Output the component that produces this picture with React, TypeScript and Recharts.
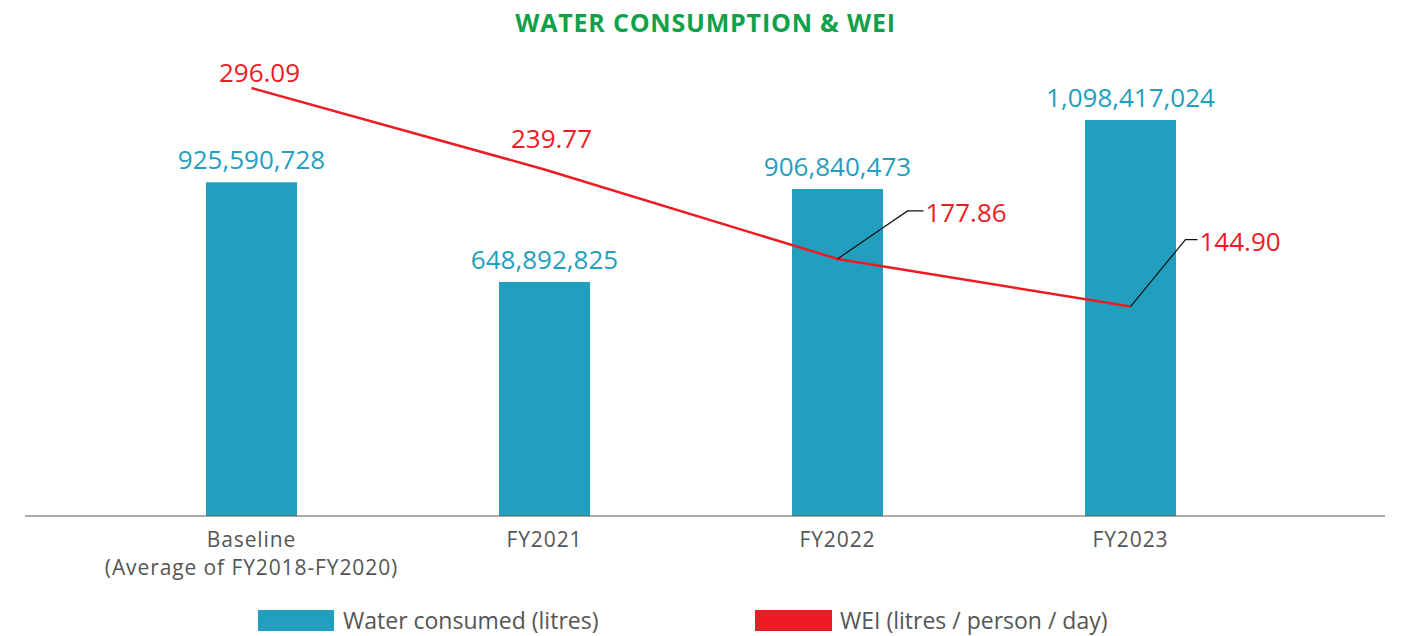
import { ComposedChart, Bar, Line, XAxis, YAxis, LabelList } from "recharts";

const categories = ["Baseline\n(Average of FY2018-FY2020)", "FY2021", "FY2022", "FY2023"];
const waterConsumed = [925590728, 648892825, 906840473, 1098417024];
const wei = [296.09, 239.77, 177.86, 144.9];

const seriesNames = ["Water consumed (litres)", "WEI (litres / person / day)"];
const TEAL = "#229fbe";
const RED = "#ed1c24";
const FONT = "'Open Sans', sans-serif";

const data = categories.map((name, i) => ({
  name,
  water: waterConsumed[i],
  wei: wei[i],
}));

// where each WEI label sits relative to its point (leader = elbow line)
const weiLabelPlace = [
  { dx: 8, dy: -16, leader: false },
  { dx: 7, dy: -31, leader: false },
  { dx: 70, dy: -48, leader: true, run: 16 },
  { dx: 55, dy: -67, leader: true, run: 12 },
];

function CategoryTick(props: any) {
  const { x, y, payload } = props;
  const lines = String(payload.value).split("\n");
  return (
    <g>
      {lines.map((l, i) => (
        <text
          key={i}
          x={x}
          y={y + 15 + i * 28}
          textAnchor="middle"
          dominantBaseline="central"
          fill="#555"
          fontSize={21}
          letterSpacing={0.9}
          fontFamily={FONT}
        >
          {l}
        </text>
      ))}
    </g>
  );
}

function WeiLabel(props: any) {
  const { x, y, index, value } = props;
  const p = weiLabelPlace[index];
  const txt = Number(value).toFixed(2);
  if (!p.leader) {
    return (
      <text x={x + p.dx} y={y + p.dy} textAnchor="middle" dominantBaseline="central"
        fill={RED} fontSize={26} fontFamily={FONT}>
        {txt}
      </text>
    );
  }
  const ex = x + p.dx;
  const ey = y + p.dy;
  return (
    <g>
      <polyline points={`${x},${y} ${ex},${ey} ${ex + p.run},${ey}`} fill="none" stroke="#111" strokeWidth={1.2} />
      <text x={ex + p.run + 2} y={ey + 1} textAnchor="start" dominantBaseline="central"
        fill={RED} fontSize={26} fontFamily={FONT}>
        {txt}
      </text>
    </g>
  );
}

export default function App() {
  return (
    <div style={{ position: "absolute", left: 0, top: 0, width: 1401, height: 636, background: "#fff", fontFamily: FONT }}>
      <div style={{ position: "absolute", top: 8, left: 0, width: 1411, textAlign: "center", color: "#10a14a", fontWeight: 700, fontSize: 25, letterSpacing: 0.8, lineHeight: "28px" }}>
        WATER CONSUMPTION &amp; WEI
      </div>
      <ComposedChart width={1401} height={636} data={data} margin={{ top: 60, right: 16, bottom: 0, left: 25 }}>
        <XAxis
          dataKey="name"
          interval={0}
          padding={{ left: 80, right: 108 }}
          axisLine={{ stroke: "#555", strokeWidth: 1 }}
          tickLine={false}
          tick={<CategoryTick />}
          height={120}
        />
        <YAxis yAxisId="water" hide domain={[0, 1265000000]} />
        <YAxis yAxisId="wei" hide orientation="right" domain={[0, 315.5]} />
        <Bar yAxisId="water" dataKey="water" name={seriesNames[0]} fill={TEAL} barSize={91} isAnimationActive={false}>
          <LabelList
            dataKey="water"
            position="top"
            offset={13}
            fill={TEAL}
            fontSize={26}
            fontFamily={FONT}
            formatter={(v: any) => Number(v).toLocaleString("en-US")}
          />
        </Bar>
        <Line
          yAxisId="wei"
          dataKey="wei"
          name={seriesNames[1]}
          stroke={RED}
          strokeWidth={2.5}
          dot={false}
          activeDot={false}
          type="linear"
          isAnimationActive={false}
        >
          <LabelList dataKey="wei" content={<WeiLabel />} />
        </Line>
      </ComposedChart>
      <div style={{ position: "absolute", top: 610, left: 258, width: 76, height: 21, background: TEAL }} />
      <div style={{ position: "absolute", top: 605, left: 343, fontSize: 23, lineHeight: "30px", color: "#555" }}>{seriesNames[0]}</div>
      <div style={{ position: "absolute", top: 610, left: 755, width: 77, height: 21, background: RED }} />
      <div style={{ position: "absolute", top: 605, left: 840, fontSize: 23, lineHeight: "30px", color: "#555" }}>{seriesNames[1]}</div>
    </div>
  );
}
